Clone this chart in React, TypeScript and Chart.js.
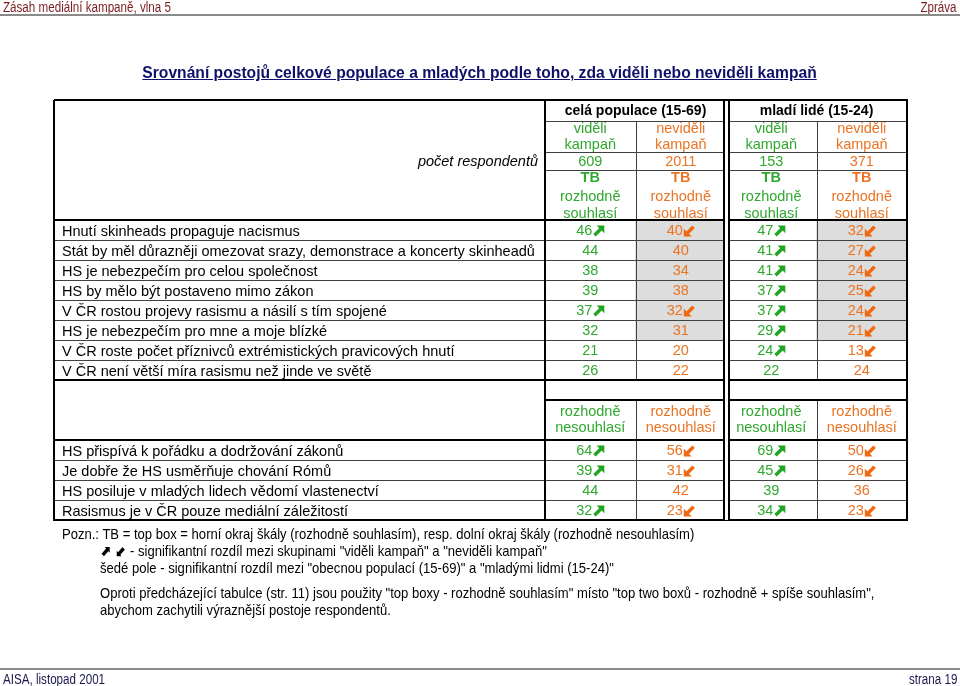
import React, { useEffect, useRef } from "react";
import { Chart, registerables } from "chart.js";

Chart.register(...registerables);

// ---------- texts ----------
const pageHeaderLeft = "Zásah mediální kampaně, vlna 5";
const pageHeaderRight = "Zpráva";
const titleText =
  "Srovnání postojů celkové populace a mladých podle toho, zda viděli nebo neviděli kampaň";
const footerLeft = "AISA, listopad 2001";
const footerRight = "strana 19";

const groupLabels = ["celá populace (15-69)", "mladí lidé (15-24)"];
const columnLabels = [
  ["viděli", "kampaň"],
  ["neviděli", "kampaň"],
  ["viděli", "kampaň"],
  ["neviděli", "kampaň"],
];
const respondentsLabel = "počet respondentů";
const respondents = [609, 2011, 153, 371];
const agreeHeader = ["TB", "rozhodně", "souhlasí"];
const disagreeHeader = ["rozhodně", "nesouhlasí"];

// ---------- top box: strongly agree ----------
const agreeStatements = [
  "Hnutí skinheads propaguje nacismus",
  "Stát by měl důrazněji omezovat srazy, demonstrace a koncerty skinheadů",
  "HS je nebezpečím pro celou společnost",
  "HS by mělo být postaveno mimo zákon",
  "V ČR rostou projevy rasismu a násilí s tím spojené",
  "HS je nebezpečím pro mne a moje blízké",
  "V ČR roste počet příznivců extrémistických pravicových hnutí",
  "V ČR není větší míra rasismu než jinde ve světě",
];
const agreePopSeen = [46, 44, 38, 39, 37, 32, 21, 26];
const agreePopUnseen = [40, 40, 34, 38, 32, 31, 20, 22];
const agreeYouthSeen = [47, 41, 41, 37, 37, 29, 24, 22];
const agreeYouthUnseen = [32, 27, 24, 25, 24, 21, 13, 24];
const agreePopSignificant = [true, false, false, false, true, false, false, false];
const agreeYouthSignificant = [true, true, true, true, true, true, true, false];
const agreeGroupDifference = [true, true, true, true, true, true, false, false];

// ---------- bottom box: strongly disagree ----------
const disagreeStatements = [
  "HS přispívá k pořádku a dodržování zákonů",
  "Je dobře že HS usměrňuje chování Rómů",
  "HS posiluje v mladých lidech vědomí vlastenectví",
  "Rasismus je v ČR pouze mediální záležitostí",
];
const disagreePopSeen = [64, 39, 44, 32];
const disagreePopUnseen = [56, 31, 42, 23];
const disagreeYouthSeen = [69, 45, 39, 34];
const disagreeYouthUnseen = [50, 26, 36, 23];
const disagreePopSignificant = [true, true, false, true];
const disagreeYouthSignificant = [true, true, false, true];
const disagreeGroupDifference = [false, false, false, false];

const notes = [
  "Pozn.: TB = top box = horní okraj škály (rozhodně souhlasím), resp. dolní okraj škály (rozhodně nesouhlasím)",
  " - signifikantní rozdíl mezi skupinami \"viděli kampaň\" a \"neviděli kampaň\"",
  "šedé pole - signifikantní rozdíl mezi \"obecnou populací (15-69)\" a \"mladými lidmi (15-24)\"",
  "Oproti předcházející tabulce (str. 11) jsou použity \"top boxy - rozhodně souhlasím\" místo \"top two boxů - rozhodně + spíše souhlasím\",",
  "abychom zachytili výraznější postoje respondentů.",
];

// ---------- styling ----------
const FONT = "'Liberation Sans', Arial, Helvetica, sans-serif";
const GREEN = "#2fa82f";
const ORANGE = "#ea7424";
const GREEN_ARROW = "#1fa51f";
const ORANGE_ARROW = "#f06812";
const SHADE = "#dddddd";
const SPACER_ROWS = 3;
const CELL_FONT = 14.5;

const rowLabels = [
  ...agreeStatements,
  ...Array(SPACER_ROWS).fill(""),
  ...disagreeStatements,
];

type CellRow = { index: number; values: number[]; sig: boolean[] };
const cellRows: CellRow[] = [
  ...agreeStatements.map((_, i) => ({
    index: i,
    values: [agreePopSeen[i], agreePopUnseen[i], agreeYouthSeen[i], agreeYouthUnseen[i]],
    sig: [agreePopSignificant[i], agreePopSignificant[i], agreeYouthSignificant[i], agreeYouthSignificant[i]],
  })),
  ...disagreeStatements.map((_, i) => ({
    index: agreeStatements.length + SPACER_ROWS + i,
    values: [disagreePopSeen[i], disagreePopUnseen[i], disagreeYouthSeen[i], disagreeYouthUnseen[i]],
    sig: [disagreePopSignificant[i], disagreePopSignificant[i], disagreeYouthSignificant[i], disagreeYouthSignificant[i]],
  })),
];

const shadeColumn = (col: number) => [
  ...agreeGroupDifference.map((f) => (f ? [col, col + 1] : null)),
  ...Array(SPACER_ROWS).fill(null),
  ...disagreeGroupDifference.map((f) => (f ? [col, col + 1] : null)),
];

function drawArrow(ctx: CanvasRenderingContext2D, x: number, cy: number, up: boolean, color: string) {
  const s = 11;
  const t = cy - s / 2;
  ctx.save();
  ctx.fillStyle = color;
  ctx.strokeStyle = color;
  ctx.lineWidth = 3.4;
  ctx.lineCap = "butt";
  ctx.beginPath();
  if (up) {
    ctx.moveTo(x + 3.2, t);
    ctx.lineTo(x + s, t);
    ctx.lineTo(x + s, t + s - 3.2);
    ctx.closePath();
    ctx.fill();
    ctx.beginPath();
    ctx.moveTo(x + 1.2, t + s - 1.2);
    ctx.lineTo(x + s - 3.5, t + 3.5);
    ctx.stroke();
  } else {
    ctx.moveTo(x, t + 3.2);
    ctx.lineTo(x, t + s);
    ctx.lineTo(x + s - 3.2, t + s);
    ctx.closePath();
    ctx.fill();
    ctx.beginPath();
    ctx.moveTo(x + s - 1.2, t + 1.2);
    ctx.lineTo(x + 3.5, t + s - 3.5);
    ctx.stroke();
  }
  ctx.restore();
}

const tablePlugin = {
  id: "tableDecor",
  afterDatasetsDraw(chart: any) {
    const ctx: CanvasRenderingContext2D = chart.ctx;
    const xs = chart.scales.x;
    const ys = chart.scales.y;
    const area = chart.chartArea;
    const rowH = ys.getPixelForValue(1) - ys.getPixelForValue(0);
    const rowTop = (i: number) => ys.getPixelForValue(i) - rowH / 2;
    const colX = (c: number) => xs.getPixelForValue(c);
    const left = Math.round(ys.left - 8);
    const right = Math.round(area.right);
    const top = Math.round(area.top - 120);
    const hdr1 = Math.round(area.top - 99);
    const hdr2 = Math.round(area.top - 68);
    const hdr3 = Math.round(area.top - 50);
    const nTop = agreeStatements.length;
    const total = rowLabels.length;
    const midTop = Math.round(rowTop(nTop));
    const midHeaderTop = Math.round(rowTop(nTop + 1));
    const botTop = Math.round(rowTop(nTop + SPACER_ROWS));
    const bottom = Math.round(area.bottom);
    const dataLeft = Math.round(area.left);

    const hline = (y: number, x1: number, x2: number, w: number, c: string) => {
      ctx.fillStyle = c;
      ctx.fillRect(x1, Math.round(y) - Math.floor(w / 2), x2 - x1, w);
    };
    const vline = (x: number, y1: number, y2: number, w: number, c: string) => {
      ctx.fillStyle = c;
      ctx.fillRect(Math.round(x) - Math.floor(w / 2), y1, w, y2 - y1);
    };

    ctx.save();
    const thin = "#404040";
    const thick = "#000000";
    // thin row separators
    for (let i = 1; i < nTop; i++) hline(rowTop(i), left, right, 1, thin);
    for (let i = nTop + SPACER_ROWS + 1; i < total; i++) hline(rowTop(i), left, right, 1, thin);
    // header thin lines
    hline(hdr1, dataLeft, right, 1, thin);
    hline(hdr2, dataLeft, right, 1, thin);
    hline(hdr3, dataLeft, right, 1, thin);
    // column dividers
    [1, 3].forEach((c) => {
      vline(colX(c), hdr1, midTop, 1, thin);
      vline(colX(c), midHeaderTop, bottom, 1, thin);
    });
    // thick lines
    hline(top, left, right + 1, 2, thick);
    hline(bottom, left, right + 1, 2, thick);
    hline(area.top, left, right, 2, thick);
    hline(midTop, left, right, 2, thick);
    hline(botTop, left, right, 2, thick);
    hline(midHeaderTop, dataLeft, right, 2, thick);
    vline(left, top, bottom + 1, 2, thick);
    vline(right, top, bottom + 1, 2, thick);
    vline(dataLeft, top, bottom, 2, thick);
    // double line between groups
    const gx = colX(2);
    ctx.fillStyle = "#ffffff";
    ctx.fillRect(Math.round(gx) - 2, top + 1, 4, bottom - top - 1);
    vline(gx - 2.5, top, bottom, 2, thick);
    vline(gx + 2.5, top, bottom, 2, thick);

    // ---------- header texts ----------
    ctx.textBaseline = "middle";
    ctx.textAlign = "center";
    ctx.fillStyle = "#000";
    ctx.font = `bold 14px ${FONT}`;
    groupLabels.forEach((g, gi) => {
      ctx.fillText(g, colX(gi * 2 + 1), (top + hdr1) / 2 + 0.5);
    });
    const regular = `${CELL_FONT}px ${FONT}`;
    ctx.font = regular;
    columnLabels.forEach((lines, c) => {
      ctx.fillStyle = c % 2 === 0 ? GREEN : ORANGE;
      const cx = colX(c + 0.5);
      ctx.fillText(lines[0], cx, hdr1 + 8);
      ctx.fillText(lines[1], cx, hdr1 + 24);
      ctx.fillText(String(respondents[c]), cx, (hdr2 + hdr3) / 2 + 0.5);
      ctx.font = `bold ${CELL_FONT}px ${FONT}`;
      ctx.fillText(agreeHeader[0], cx, hdr3 + 8);
      ctx.font = regular;
      ctx.fillText(agreeHeader[1], cx, hdr3 + 27);
      ctx.fillText(agreeHeader[2], cx, hdr3 + 44);
      const mc = (midHeaderTop + botTop) / 2;
      ctx.fillText(disagreeHeader[0], cx, mc - 8);
      ctx.fillText(disagreeHeader[1], cx, mc + 8);
    });
    ctx.fillStyle = "#000";
    ctx.textAlign = "right";
    ctx.font = `italic 14.5px ${FONT}`;
    ctx.fillText(respondentsLabel, dataLeft - 7, (hdr2 + hdr3) / 2 + 0.5);

    // ---------- cell values ----------
    ctx.font = regular;
    ctx.textAlign = "left";
    cellRows.forEach((r) => {
      const cy = ys.getPixelForValue(r.index) + 1;
      r.values.forEach((v, c) => {
        const txt = String(v);
        const w = ctx.measureText(txt).width;
        const aw = r.sig[c] ? 12 : 0;
        const sx = colX(c + 0.5) - (w + aw) / 2;
        const seen = c % 2 === 0;
        ctx.fillStyle = seen ? GREEN : ORANGE;
        ctx.fillText(txt, sx, cy);
        if (r.sig[c]) drawArrow(ctx, sx + w + 1, cy, seen, seen ? GREEN_ARROW : ORANGE_ARROW);
      });
    });
    ctx.restore();
  },
};

const narrow = (extra: React.CSSProperties): React.CSSProperties => ({
  position: "absolute",
  fontFamily: FONT,
  fontSize: 14,
  lineHeight: "16px",
  whiteSpace: "nowrap",
  transform: "scaleX(0.83)",
  transformOrigin: "left top",
  ...extra,
});

const noteStyle = (left: number, top: number): React.CSSProperties =>
  narrow({ left, top, fontSize: 15, lineHeight: "17px", transform: "scaleX(0.87)" });

export default function App() {
  const canvasRef = useRef<HTMLCanvasElement | null>(null);

  useEffect(() => {
    if (!canvasRef.current) return;
    const chart = new Chart(canvasRef.current, {
      type: "bar",
      data: {
        labels: rowLabels,
        datasets: [
          {
            data: shadeColumn(1) as any,
            backgroundColor: SHADE,
            borderWidth: 0,
            grouped: false,
            barPercentage: 1,
            categoryPercentage: 1,
          },
          {
            data: shadeColumn(3) as any,
            backgroundColor: SHADE,
            borderWidth: 0,
            grouped: false,
            barPercentage: 1,
            categoryPercentage: 1,
          },
        ],
      },
      options: {
        indexAxis: "y",
        responsive: false,
        animation: false,
        devicePixelRatio: 1,
        events: [],
        layout: { padding: { top: 220, bottom: 166, left: 62, right: 53 } },
        plugins: {
          legend: { display: false },
          tooltip: { enabled: false },
          title: { display: false },
        },
        scales: {
          x: { type: "linear", min: 0, max: 4, display: false },
          y: {
            type: "category",
            offset: true,
            grid: { display: false },
            border: { display: false },
            ticks: {
              crossAlign: "far",
              autoSkip: false,
              padding: 0,
              labelOffset: 2,
              color: "#000",
              font: { family: FONT, size: CELL_FONT },
            },
            afterFit: (s: any) => {
              s.width = 483;
            },
          },
        },
      } as any,
      plugins: [tablePlugin],
    });
    return () => chart.destroy();
  }, []);

  return (
    <div
      style={{
        position: "fixed",
        left: 0,
        top: 0,
        width: 960,
        height: 686,
        background: "#fff",
        overflow: "hidden",
      }}
    >
      <canvas ref={canvasRef} width={960} height={686} style={{ position: "absolute", left: 0, top: 0 }} />
      <div style={narrow({ left: 3, top: -1, color: "#7a1c1c" })}>{pageHeaderLeft}</div>
      <div style={narrow({ right: 3, top: -1, color: "#7a1c1c", transformOrigin: "right top" })}>
        {pageHeaderRight}
      </div>
      <div style={{ position: "absolute", left: 0, top: 14, width: 960, height: 2, background: "#8a8a8a" }} />
      <div style={{ position: "absolute", left: 0, top: 63, width: 960, textAlign: "center" }}>
        <span
          style={{
            display: "inline-block",
            fontFamily: FONT,
            fontWeight: "bold",
            fontSize: 17,
            lineHeight: "20px",
            whiteSpace: "nowrap",
            textDecoration: "underline",
            color: "#10106a",
            transform: "scaleX(0.92)",
            transformOrigin: "center top",
          }}
        >
          {titleText}
        </span>
      </div>
      <div style={noteStyle(62, 525)}>{notes[0]}</div>
      <div style={noteStyle(100, 542)}>
        <span style={{ fontFamily: "'DejaVu Sans'", fontWeight: "bold", fontSize: 15 }}>⬈ ⬋</span>
        {notes[1]}
      </div>
      <div style={noteStyle(100, 559)}>{notes[2]}</div>
      <div style={noteStyle(100, 584)}>{notes[3]}</div>
      <div style={noteStyle(100, 601)}>{notes[4]}</div>
      <div style={{ position: "absolute", left: 0, top: 668, width: 960, height: 2, background: "#8a8a8a" }} />
      <div style={narrow({ left: 3, top: 671, color: "#1a1a50" })}>{footerLeft}</div>
      <div style={narrow({ right: 3, top: 671, color: "#1a1a50", transformOrigin: "right top" })}>
        {footerRight}
      </div>
    </div>
  );
}
